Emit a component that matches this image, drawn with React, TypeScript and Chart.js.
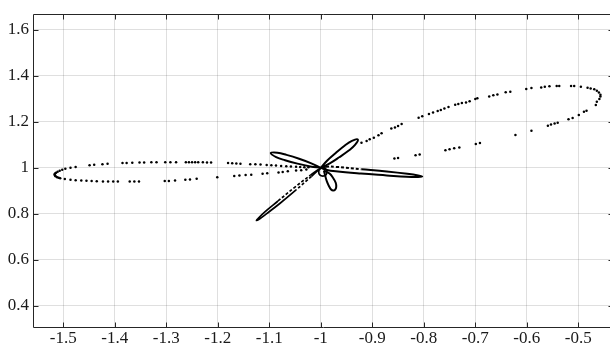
import React, { useEffect, useRef } from "react";
import { Chart, registerables } from "chart.js";

Chart.register(...registerables);

type P = [number, number];

const xTickValues = [-1.5, -1.4, -1.3, -1.2, -1.1, -1, -0.9, -0.8, -0.7, -0.6, -0.5];
const xTickLabels = ["-1.5", "-1.4", "-1.3", "-1.2", "-1.1", "-1", "-0.9", "-0.8", "-0.7", "-0.6", "-0.5"];
const yTickValues = [0.4, 0.6, 0.8, 1, 1.2, 1.4, 1.6];
const yTickLabels = ["0.4", "0.6", "0.8", "1", "1.2", "1.4", "1.6"];

const leftLoopTip: P[] = [
  [-1.509, 0.957], [-1.512, 0.959], [-1.515, 0.963], [-1.516, 0.967], [-1.517, 0.971],
  [-1.516, 0.975], [-1.514, 0.979], [-1.511, 0.983], [-1.507, 0.987],
];

const leftLoopUpper: P[] = [
  [-1.502, 0.992], [-1.496, 0.996], [-1.486, 1.0], [-1.476, 1.004], [-1.449, 1.011],
  [-1.44, 1.013], [-1.424, 1.016], [-1.414, 1.018], [-1.385, 1.021], [-1.377, 1.021],
  [-1.366, 1.022], [-1.352, 1.023], [-1.343, 1.023], [-1.329, 1.024], [-1.319, 1.024],
  [-1.302, 1.024], [-1.292, 1.024], [-1.281, 1.024], [-1.262, 1.024], [-1.256, 1.024],
  [-1.25, 1.024], [-1.244, 1.024], [-1.238, 1.024], [-1.229, 1.024], [-1.221, 1.023],
  [-1.213, 1.023], [-1.18, 1.021], [-1.172, 1.02], [-1.164, 1.019], [-1.156, 1.018],
  [-1.137, 1.016], [-1.127, 1.015], [-1.117, 1.014], [-1.105, 1.012], [-1.096, 1.011],
  [-1.087, 1.01], [-1.077, 1.008], [-1.067, 1.007], [-1.058, 1.006], [-1.048, 1.005],
  [-1.04, 1.004], [-1.032, 1.003], [-1.024, 1.002],
];

const leftLoopLower: P[] = [
  [-1.506, 0.955], [-1.497, 0.951], [-1.486, 0.948], [-1.476, 0.946], [-1.465, 0.945],
  [-1.455, 0.944], [-1.445, 0.943], [-1.435, 0.942], [-1.423, 0.941], [-1.413, 0.941],
  [-1.403, 0.941], [-1.394, 0.941], [-1.371, 0.941], [-1.362, 0.941], [-1.353, 0.941],
  [-1.303, 0.943], [-1.295, 0.943], [-1.283, 0.945], [-1.263, 0.948], [-1.254, 0.949],
  [-1.241, 0.952], [-1.201, 0.959], [-1.168, 0.965], [-1.158, 0.967], [-1.146, 0.969],
  [-1.135, 0.97], [-1.113, 0.974], [-1.104, 0.976], [-1.082, 0.98], [-1.074, 0.982],
  [-1.064, 0.985], [-1.048, 0.988], [-1.038, 0.99], [-1.028, 0.993],
];

const rightLoopUpper: P[] = [
  [-0.921, 1.109], [-0.911, 1.117], [-0.905, 1.124], [-0.897, 1.131], [-0.888, 1.142],
  [-0.882, 1.15], [-0.863, 1.171], [-0.856, 1.175], [-0.85, 1.182], [-0.843, 1.19],
  [-0.81, 1.218], [-0.803, 1.224], [-0.79, 1.234], [-0.782, 1.24], [-0.773, 1.247],
  [-0.767, 1.251], [-0.76, 1.258], [-0.752, 1.264], [-0.739, 1.274], [-0.733, 1.277],
  [-0.726, 1.282], [-0.718, 1.284], [-0.711, 1.289], [-0.7, 1.299], [-0.696, 1.302],
  [-0.673, 1.31], [-0.665, 1.315], [-0.657, 1.319], [-0.641, 1.328], [-0.632, 1.331],
  [-0.601, 1.342], [-0.591, 1.347], [-0.572, 1.349], [-0.565, 1.352], [-0.556, 1.354],
  [-0.542, 1.356], [-0.537, 1.356], [-0.514, 1.356], [-0.508, 1.356], [-0.495, 1.352],
  [-0.482, 1.348], [-0.476, 1.345], [-0.469, 1.341], [-0.464, 1.335], [-0.46, 1.327],
  [-0.457, 1.318], [-0.457, 1.31], [-0.459, 1.299], [-0.464, 1.287], [-0.466, 1.273],
];

const rightLoopLower: P[] = [
  [-0.484, 1.248], [-0.489, 1.244], [-0.499, 1.23], [-0.511, 1.217], [-0.519, 1.211],
  [-0.54, 1.196], [-0.546, 1.193], [-0.553, 1.188], [-0.559, 1.183], [-0.591, 1.161],
  [-0.622, 1.143], [-0.691, 1.108], [-0.699, 1.104], [-0.731, 1.088], [-0.741, 1.085],
  [-0.75, 1.081], [-0.758, 1.076], [-0.808, 1.058], [-0.816, 1.055], [-0.85, 1.043],
  [-0.857, 1.041],
];

const petalUpperRight: P[] = [
  [-1, 1], [-0.9834, 1.0182], [-0.9642, 1.0458], [-0.9457, 1.075], [-0.9335, 1.0995],
  [-0.928, 1.123], [-0.9395, 1.1174], [-0.9533, 1.0973], [-0.971, 1.0648], [-0.9879, 1.0311], [-1, 1],
];

const petalUpperLeft: P[] = [
  [-1, 1], [-1.0184, 1.0195], [-1.0421, 1.0394], [-1.0665, 1.0563], [-1.0842, 1.0656],
  [-1.0971, 1.0639], [-1.0867, 1.0467], [-1.0694, 1.0329], [-1.0453, 1.0182], [-1.0204, 1.0062], [-1, 1],
];

const petalRight: P[] = [
  [-1, 1], [-0.99, 1.005], [-0.97, 1.004], [-0.921, 0.994], [-0.872, 0.984],
  [-0.832, 0.974], [-0.811, 0.967], [-0.803, 0.962], [-0.811, 0.96], [-0.833, 0.961],
  [-0.872, 0.967], [-0.922, 0.975], [-0.971, 0.985], [-0.99, 0.992], [-1, 1],
];

const petalLowerLeft: P[] = [
  [-1, 1], [-1.018, 0.963], [-1.048, 0.904], [-1.079, 0.846], [-1.105, 0.801],
  [-1.119, 0.778], [-1.125, 0.771], [-1.121, 0.782], [-1.108, 0.81], [-1.083, 0.856],
  [-1.052, 0.913], [-1.02, 0.968], [-1, 1],
];

const petalLower: P[] = [
  [-0.994, 0.988], [-0.983, 0.975], [-0.976, 0.956], [-0.971, 0.935], [-0.97, 0.917],
  [-0.972, 0.905], [-0.976, 0.901], [-0.98, 0.906], [-0.984, 0.92], [-0.988, 0.94],
  [-0.991, 0.962], [-0.994, 0.988],
];

const centerLoop: P[] = [
  [-0.988, 0.982], [-0.99, 0.995], [-0.996, 1.0], [-1.002, 0.995], [-1.004, 0.982],
  [-1.002, 0.969], [-0.996, 0.964], [-0.99, 0.969], [-0.988, 0.982],
];

const FONT_FAMILY = "'Liberation Serif', 'Times New Roman', Times, serif";

const toXY = (arr: P[]) => arr.map(([x, y]) => ({ x, y }));

const boxPlugin = {
  id: "matlabBox",
  afterDatasetsDraw(chart: any) {
    const { ctx, chartArea: a, scales } = chart;
    const L = Math.round(a.left) + 0.5;
    const R = Math.round(a.right) + 0.5;
    const T = Math.round(a.top) + 0.5;
    const B = Math.round(a.bottom) + 0.5;
    const tl = 5;
    ctx.save();
    ctx.strokeStyle = "#262626";
    ctx.lineWidth = 1;
    ctx.beginPath();
    ctx.rect(L, T, R - L, B - T);
    ctx.stroke();
    ctx.beginPath();
    for (const v of xTickValues) {
      const px = Math.round(scales.x.getPixelForValue(v)) + 0.5;
      ctx.moveTo(px, B);
      ctx.lineTo(px, B - tl);
      ctx.moveTo(px, T);
      ctx.lineTo(px, T + tl);
    }
    for (const v of yTickValues) {
      const py = Math.round(scales.y.getPixelForValue(v)) + 0.5;
      ctx.moveTo(L, py);
      ctx.lineTo(L + tl, py);
      ctx.moveTo(R, py);
      ctx.lineTo(R - tl, py);
    }
    ctx.stroke();
    ctx.restore();
  },
};

export default function App() {
  const ref = useRef<HTMLCanvasElement | null>(null);

  useEffect(() => {
    document.body.style.margin = "0";
    document.body.style.overflow = "hidden";
    document.documentElement.style.overflow = "hidden";
    const canvas = ref.current;
    if (!canvas) return;

    const dots = (data: P[]) => ({
      data: toXY(data),
      showLine: false,
      pointRadius: 1.25,
      pointBorderWidth: 0,
      pointBackgroundColor: "#000",
      pointHoverRadius: 0,
    });
    const loop = (data: P[], width = 2, dashWhen?: (x0: number, y0: number, x1: number, y1: number) => boolean) => ({
      data: toXY(data),
      showLine: true,
      pointRadius: 0,
      pointHoverRadius: 0,
      borderColor: "#000",
      borderWidth: width,
      tension: 0.4,
      fill: false,
      segment: dashWhen
        ? {
            borderDash: (ctx: any) =>
              dashWhen(ctx.p0.parsed.x, ctx.p0.parsed.y, ctx.p1.parsed.x, ctx.p1.parsed.y) ? [3, 2] : undefined,
          }
        : undefined,
    });

    const tickFont = { family: FONT_FAMILY, size: 17 };

    const chart = new Chart(canvas, {
      type: "scatter",
      data: {
        datasets: [
          dots(leftLoopTip),
          dots(leftLoopUpper),
          dots(leftLoopLower),
          dots(rightLoopUpper),
          dots(rightLoopLower),
          loop(petalUpperRight),
          loop(petalUpperLeft),
          loop(petalRight, 2, (x0, y0, x1, y1) => y0 > 0.985 && y1 > 0.985 && x0 > -0.995 && x1 > -0.995),
          loop(petalLowerLeft, 1.7, (x0, y0, x1, y1) => Math.min(y0, y1) > 0.85 && Math.max(y0, y1) < 0.99),
          loop(petalLower, 2),
          loop(centerLoop, 1.7),
        ] as any,
      },
      options: {
        responsive: false,
        animation: false,
        devicePixelRatio: 1,
        layout: { padding: { top: 11, right: 7, left: 0, bottom: 0 } },
        plugins: { legend: { display: false }, tooltip: { enabled: false } },
        events: [],
        scales: {
          x: {
            type: "linear",
            min: -1.5588,
            max: -0.4326,
            afterBuildTicks: (scale: any) => {
              scale.ticks = xTickValues.map((v) => ({ value: v }));
            },
            afterFit: (scale: any) => {
              scale.height = 18;
            },
            grid: { color: "rgba(38,38,38,0.15)", lineWidth: 1, drawTicks: false },
            border: { display: false },
            ticks: {
              callback: (_v: any, i: number) => xTickLabels[i],
              color: "#1a1a1a",
              padding: 1,
              maxRotation: 0,
              autoSkip: false,
              font: tickFont,
            },
          },
          y: {
            type: "linear",
            min: 0.3084,
            max: 1.6675,
            afterBuildTicks: (scale: any) => {
              scale.ticks = yTickValues.map((v) => ({ value: v }));
            },
            afterFit: (scale: any) => {
              scale.width = 33;
            },
            grid: { color: "rgba(38,38,38,0.15)", lineWidth: 1, drawTicks: false },
            border: { display: false },
            ticks: {
              callback: (_v: any, i: number) => yTickLabels[i],
              color: "#1a1a1a",
              padding: 4,
              autoSkip: false,
              font: tickFont,
            },
          },
        },
      },
      plugins: [boxPlugin],
    });

    let alive = true;
    if ((document as any).fonts && (document as any).fonts.load) {
      (document as any).fonts
        .load("17px 'Liberation Serif'")
        .then(() => {
          if (alive) chart.update();
        })
        .catch(() => {});
    }

    return () => {
      alive = false;
      chart.destroy();
    };
  }, []);

  return (
    <div style={{ position: "fixed", left: 0, top: 0, width: 620, height: 345 }}>
      <canvas ref={ref} width={620} height={345} style={{ width: 620, height: 345, display: "block" }} />
    </div>
  );
}
